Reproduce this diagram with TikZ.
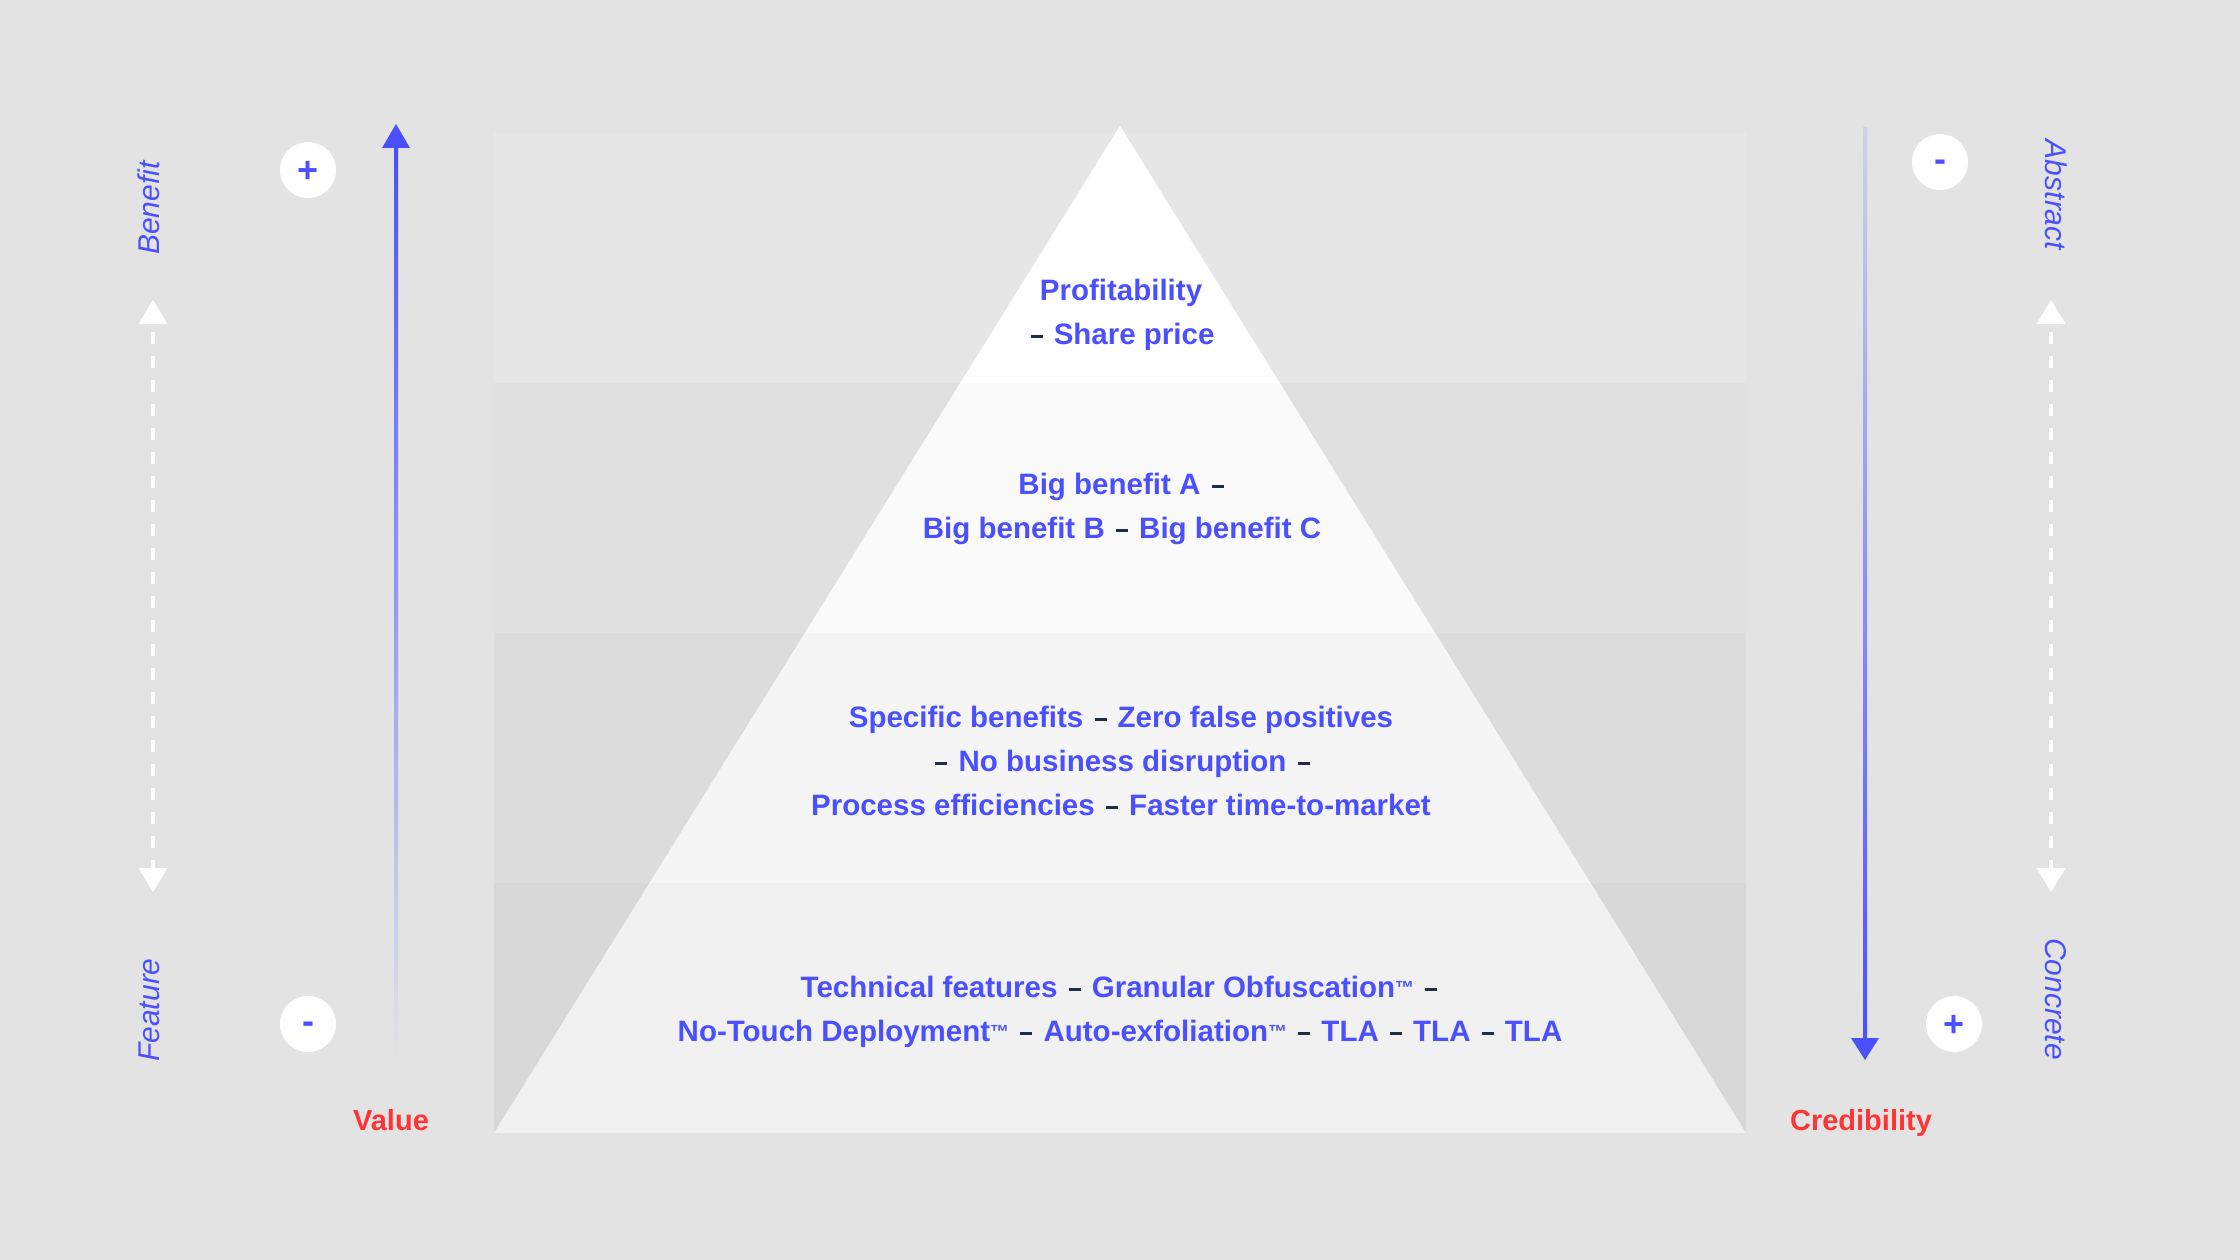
\documentclass[tikz,border=0pt]{standalone}
\usepackage{fontspec}
\setmainfont{Liberation Sans}
\usetikzlibrary{calc}
\definecolor{bg}{HTML}{E3E3E3}
\definecolor{bandA}{HTML}{E6E6E6}
\definecolor{bandB}{HTML}{E0E0E0}
\definecolor{bandC}{HTML}{DCDCDC}
\definecolor{bandD}{HTML}{D8D8D8}
\definecolor{pyrA}{HTML}{FFFFFF}
\definecolor{pyrB}{HTML}{FAFAFA}
\definecolor{pyrC}{HTML}{F5F5F5}
\definecolor{pyrD}{HTML}{F1F1F1}
\definecolor{ink}{HTML}{4A50FF}
\definecolor{dashc}{HTML}{1F2D45}
\definecolor{redc}{HTML}{FF3535}
\newcommand\dd{\hspace{3pt}\textcolor{dashc}{\rule[6.5pt]{12pt}{2.8pt}}\hspace{3pt}}
\newcommand\tmk{\raisebox{3pt}{\fontsize{19}{19}\selectfont ™}}
\newcommand\plusmark{\raisebox{-12.5pt}[0pt][0pt]{+}}
\newcommand\minusmark{\raisebox{-9.5pt}[0pt][0pt]{-}}
\tikzset{
  ptext/.style={text=ink, font=\fontsize{29.5}{44}\selectfont\bfseries, anchor=base, inner sep=0pt},
  sidelabel/.style={text=ink, font=\fontsize{30}{36}\selectfont\itshape, anchor=base, inner sep=0pt},
  axislabel/.style={text=redc, font=\fontsize{29}{36}\selectfont\bfseries, anchor=base, inner sep=0pt},
  sign/.style={circle, fill=white, minimum size=56pt, inner sep=0pt, text=ink, font=\fontsize{36}{36}\selectfont\bfseries},
  dashline/.style={white, line width=4.5pt, dash pattern=on 12pt off 12pt},
}
\begin{document}
\begin{tikzpicture}[x=1pt,y=-1pt]
\fill[bg] (0,0) rectangle (2240,1260);
\useasboundingbox (0,0) rectangle (2240,1260);
% bands
\fill[bandA] (494,133) rectangle (1746,383);
\fill[bandB] (494,383) rectangle (1746,633);
\fill[bandC] (494,633) rectangle (1746,883);
\fill[bandD] (494,883) rectangle (1746,1133);
% pyramid
\coordinate (apex) at (1120,126);
\coordinate (bl) at (494,1133);
\coordinate (br) at (1746,1133);
\begin{scope}\clip (480,100) rectangle (1760,383);
\fill[pyrA] (apex) -- (bl) -- (br) -- cycle;\end{scope}
\begin{scope}\clip (480,383) rectangle (1760,633);
\fill[pyrB] (apex) -- (bl) -- (br) -- cycle;\end{scope}
\begin{scope}\clip (480,633) rectangle (1760,883);
\fill[pyrC] (apex) -- (bl) -- (br) -- cycle;\end{scope}
\begin{scope}\clip (480,883) rectangle (1760,1133);
\fill[pyrD] (apex) -- (bl) -- (br) -- cycle;\end{scope}
% pyramid texts
\node[ptext] (t1a) at (1121,300) {Profitability};
\node[ptext] (t1b) at (1121,344) {\dd{} Share price};
\node[ptext] (t2a) at (1121,494) {Big benefit A \dd};
\node[ptext] (t2b) at (1122,538) {Big benefit B \dd{} Big benefit C};
\node[ptext] (t3a) at (1121,727) {Specific benefits \dd{} Zero false positives};
\node[ptext] (t3b) at (1121,771) {\dd{} No business disruption \dd};
\node[ptext] (t3c) at (1121,815) {Process efficiencies \dd{} Faster time-to-market};
\node[ptext] (t4a) at (1119,997) {Technical features \dd{} Granular Obfuscation\tmk{} \dd};
\node[ptext] (t4b) at (1120,1041) {No-Touch Deployment\tmk{} \dd{} Auto-exfoliation\tmk{} \dd{} TLA \dd{} TLA \dd{} TLA};
% left side labels
\node[sidelabel, rotate=90] (benefit) at (159,208) {Benefit};
\node[sidelabel, rotate=90] (feature) at (159,1010) {Feature};
% left dashed arrow
\coordinate (lTop) at (153,300);
\coordinate (lBot) at (153,892);
\draw[dashline] ($(lTop)+(0,32)$) -- ($(lBot)+(0,-24)$);
\fill[white] (lTop) -- ++(-14.5,24) -- ++(29,0) -- cycle;
\fill[white] (lBot) -- ++(-14.5,-24) -- ++(29,0) -- cycle;
% left circles
\node[sign] (lplus) at (308,170) {\plusmark};
\node[sign] (lminus) at (308,1024) {\minusmark};
% value arrow
\coordinate (vTop) at (396,124);
\coordinate (vBot) at (396,1058);
\shade[top color=ink, bottom color=bg] ($(vTop)+(-2,22)$) rectangle ($(vBot)+(2,0)$);
\fill[ink] (vTop) -- ++(-14,24) -- ++(28,0) -- cycle;
\node[axislabel] (value) at (391,1130) {Value};
% credibility arrow
\coordinate (cTop) at (1865,128);
\coordinate (cBot) at (1865,1060);
\shade[top color=ink!12!bg, bottom color=ink] ($(cTop)+(-2,0)$) rectangle ($(cBot)+(2,-20)$);
\fill[ink] (cBot) -- ++(-14,-22) -- ++(28,0) -- cycle;
\node[axislabel] (cred) at (1861,1130) {Credibility};
% right circles
\node[sign] (rminus) at (1940,162) {\minusmark};
\node[sign] (rplus) at (1954,1024) {\plusmark};
% right dashed arrow
\coordinate (rTop) at (2051,300);
\coordinate (rBot) at (2051,892);
\draw[dashline] ($(rTop)+(0,32)$) -- ($(rBot)+(0,-24)$);
\fill[white] (rTop) -- ++(-14.5,24) -- ++(29,0) -- cycle;
\fill[white] (rBot) -- ++(-14.5,-24) -- ++(29,0) -- cycle;
% right labels
\node[sidelabel, rotate=-90] (abstract) at (2045,195) {Abstract};
\node[sidelabel, rotate=-90] (concrete) at (2045,999) {Concrete};
\end{tikzpicture}
\end{document}
